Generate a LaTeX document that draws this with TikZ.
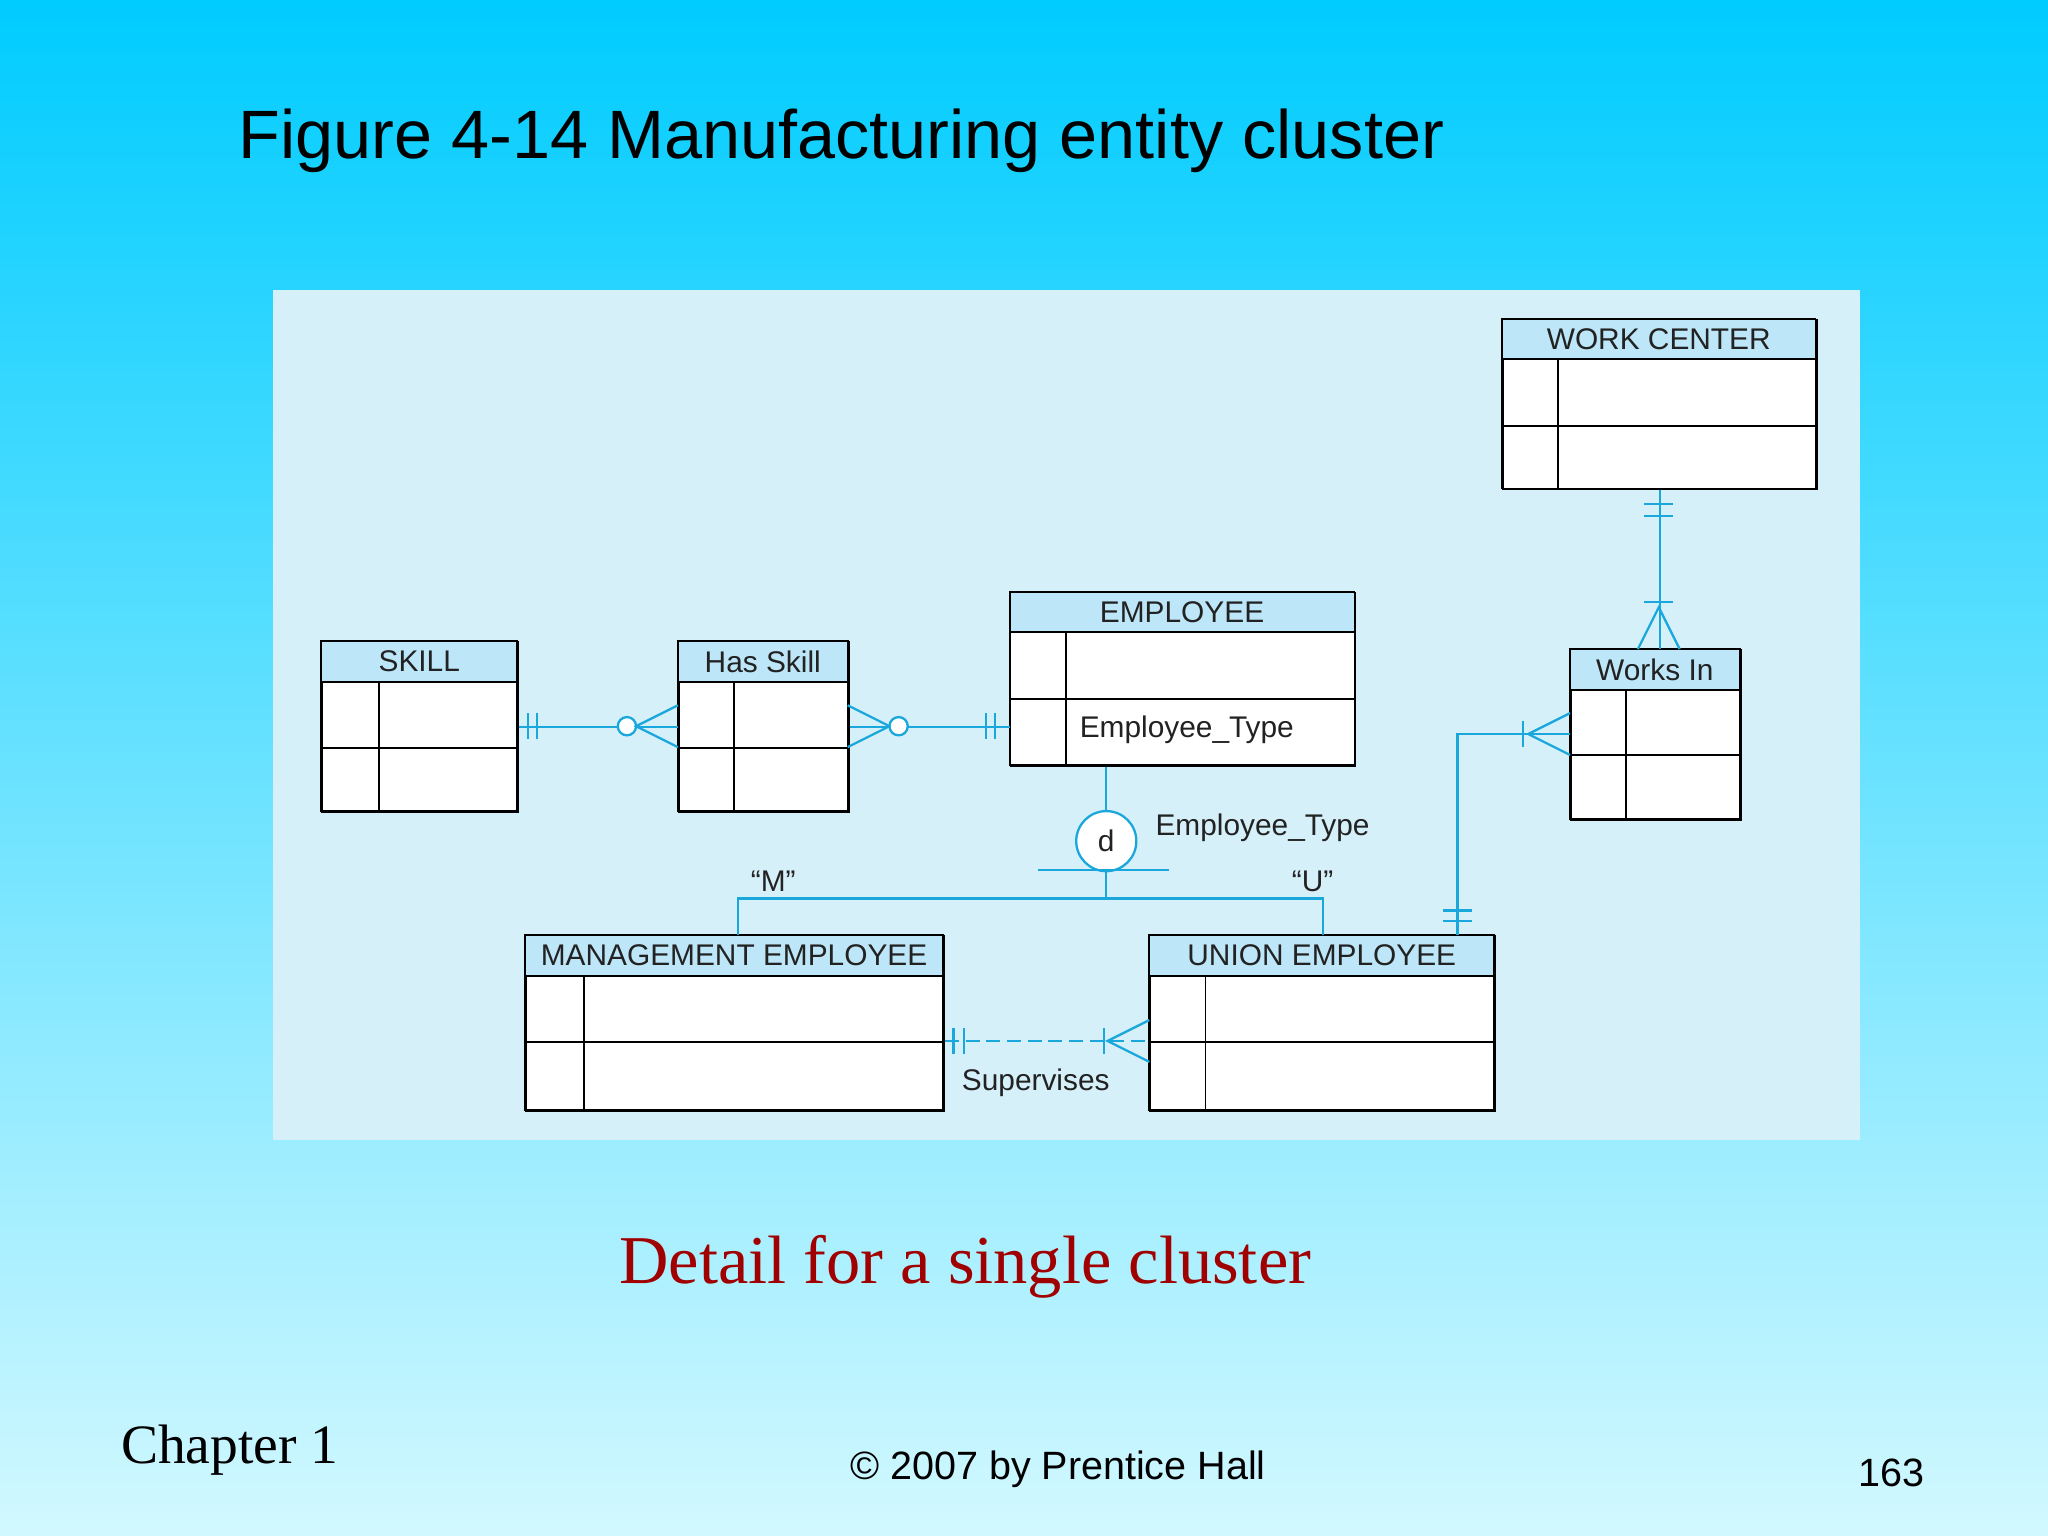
\documentclass[tikz,border=0pt]{standalone}
\usepackage{fontspec}
\setmainfont{Liberation Sans}
\newfontfamily\seriff{Liberation Serif}
\begin{document}
\definecolor{bgtop}{HTML}{00CCFF}
\definecolor{bgbot}{HTML}{D2F8FF}
\definecolor{panel}{HTML}{D6F0FA}
\definecolor{hdr}{HTML}{BDE6F8}
\definecolor{ln}{HTML}{1AA8DC}
\definecolor{dred}{HTML}{A00000}
\definecolor{txt}{HTML}{222222}
\newcommand\myent[9]{%
 \pgfmathsetmacro\ww{(#4-#2)/100}\pgfmathsetmacro\hh{(#5-#3)/100}%
 \node[draw,line width=0.4pt,fill=white,minimum width=\ww cm,minimum height=\hh cm,inner sep=0,anchor=north west] (#1) at (#2,#3) {};
 \fill[hdr] (#2,#3) rectangle (#4,#6);
 \draw[line width=0.4pt] (#2,#3) rectangle (#4,#5);
 \draw[line width=0.4pt] (#2,#6) -- (#4,#6) (#2,#7) -- (#4,#7) (#8,#6) -- (#8,#5);
 \node[font=\fontsize{6.5}{8}\selectfont,text=txt] (#1-t) at ({(#2+#4)/2},{(#3+#6)/2}) {#9};}
\begin{tikzpicture}[x=0.01cm,y=-0.01cm,
  cn/.style={draw=ln,line width=0.5pt},
  lab/.style={font=\fontsize{6.5}{8}\selectfont,text=txt}]
\shade[top color=bgtop,bottom color=bgbot] (0,0) rectangle (1568,1176);
\useasboundingbox (0,0) rectangle (1568,1176);
\fill[panel] (209,222) rectangle (1424,873);
\node[anchor=west,font=\fontsize{14.9}{18}\selectfont] (title) at (170,108) {Figure 4-14 Manufacturing entity cluster};
\myent{wc}{1150}{244}{1390}{374}{275}{326}{1193}{WORK CENTER}
\myent{sk}{246}{491}{396}{621}{522}{573}{290}{SKILL}
\myent{hs}{519}{491}{649}{621}{522}{573}{562}{Has Skill}
\myent{em}{773}{453}{1037}{586}{484}{535}{816}{EMPLOYEE}
\node[lab,anchor=west,inner sep=0] (emt) at (826,559) {Employee\_Type};
\myent{wi}{1202}{497}{1332}{627}{528}{578}{1245}{Works In}
\myent{me}{402}{716}{722}{850}{747}{798}{447}{MANAGEMENT EMPLOYEE}
\myent{ue}{880}{716}{1144}{850}{747}{798}{923}{UNION EMPLOYEE}
% SKILL - Has Skill
\draw[cn] (sk.east) -- (hs.west);
\draw[cn] (404,546)--(404,566) (411,546)--(411,566);
\draw[cn,fill=white] (480,556) circle (7);
\draw[cn] (519,540)--(487,556)--(519,572);
% Has Skill - EMPLOYEE
\coordinate (emw) at (em.west |- hs.east);
\draw[cn] (hs.east) -- (emw);
\draw[cn] (649,540)--(681,556)--(649,572);
\draw[cn,fill=white] (688,556) circle (7);
\draw[cn] (755,546)--(755,566) (762,546)--(762,566);
% WORK CENTER - Works In
\draw[cn] (wc.south) -- (wi.north -| wc.south);
\draw[cn] (1259,386)--(1281,386) (1259,395)--(1281,395) (1259,461)--(1281,461);
\draw[cn] (1254,497)--(1270,465)--(1286,497);
% Works In - UNION
\coordinate (wiw) at (1202,562);
\coordinate (bend) at (1116,562);
\coordinate (uet) at (1116,716);
\draw[cn] (wiw) -- (bend) -- (uet);
\draw[cn] (1166,552)--(1166,572);
\draw[cn] (1202,546)--(1170,562)--(1202,578);
\draw[cn] (1105,697)--(1127,697) (1105,705)--(1127,705);
% subtype
\node[draw=ln,line width=0.5pt,fill=white,circle,minimum size=0.46cm,inner sep=0,font=\fontsize{6.5}{8}\selectfont,text=txt] (d) at (847,644) {d};
\draw[cn] (em.south -| d) -- (d);
\draw[cn] (795,666)--(895,666);
\coordinate (j) at (847,688);
\draw[cn] (d) -- (j);
\draw[cn] (me.north -| 565,0) -- (565,688) -- (1013,688) -- (ue.north -| 1013,0);
\node[lab,anchor=west,inner sep=0] (et) at (884,634) {Employee\_Type};
\node[lab] (m) at (592,675) {“M”};
\node[lab] (u) at (1005,675) {“U”};
% Supervises
\coordinate (ues) at (ue.west |- 0,797);
\draw[cn,dash pattern=on 3pt off 1.5pt] (me.east |- 0,797) -- (ues);
\draw[cn] (730,787)--(730,807) (738,787)--(738,807) (845,787)--(845,807);
\draw[cn] (880,781)--(848,797)--(880,813);
\node[lab] (sup) at (793,829) {Supervises};
% bottom texts
\node[font=\seriff\fontsize{14.9}{18}\selectfont,text=dred] (det) at (739,970) {Detail for a single cluster};
\node[font=\seriff\fontsize{12.1}{16}\selectfont,anchor=west,inner sep=0] (ch) at (92,1110) {Chapter 1};
\node[font=\fontsize{8.6}{11}\selectfont] (cp) at (810,1125) {© 2007 by Prentice Hall};
\node[font=\fontsize{8.6}{11}\selectfont] (pg) at (1448,1128) {163};
\end{tikzpicture}
\end{document}
